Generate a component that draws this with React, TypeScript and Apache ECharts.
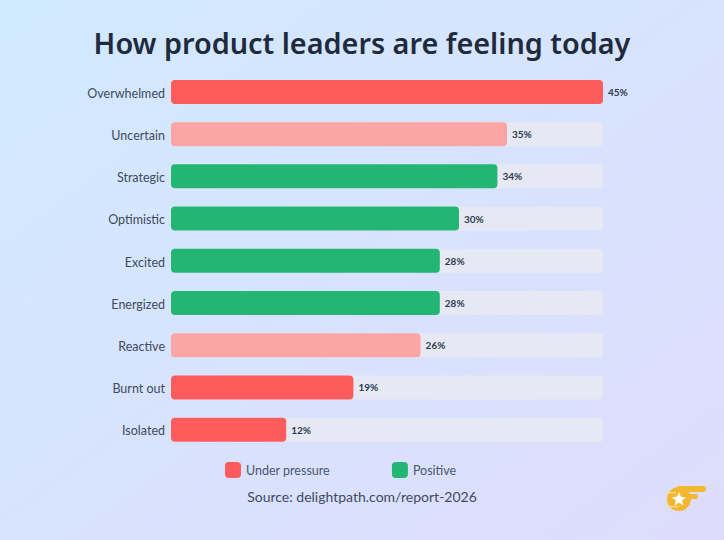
import React, { useEffect, useRef } from "react";
import * as echarts from "echarts";

const categories = [
  "Overwhelmed",
  "Uncertain",
  "Strategic",
  "Optimistic",
  "Excited",
  "Energized",
  "Reactive",
  "Burnt out",
  "Isolated",
];
const values = [45, 35, 34, 30, 28, 28, 26, 19, 12];
// tone of each feeling: "pressure" (strong), "mild" (light pressure), "positive"
const tones = [
  "pressure",
  "mild",
  "positive",
  "positive",
  "positive",
  "positive",
  "mild",
  "pressure",
  "pressure",
];
const legendNames = ["Under pressure", "Positive"];

const toneColor: Record<string, string> = {
  pressure: "#fd5b5c",
  mild: "#fba6a4",
  positive: "#22b573",
};

const TEXT_DARK = "#1f2a3c";
const TEXT_MID = "#3d4a60";
const FONT = "Lato, 'Noto Sans', sans-serif";

function starPoints(cx: number, cy: number, ro: number, ri: number) {
  const pts: number[][] = [];
  for (let i = 0; i < 10; i++) {
    const r = i % 2 === 0 ? ro : ri;
    const a = -Math.PI / 2 + (i * Math.PI) / 5;
    pts.push([cx + r * Math.cos(a), cy + r * Math.sin(a)]);
  }
  return pts;
}

export default function App() {
  const ref = useRef<HTMLDivElement>(null);

  useEffect(() => {
    if (!ref.current) return;
    const chart = echarts.init(ref.current, null, { renderer: "svg" });

    const gold = "#f4b731";
    const logo = {
      type: "group",
      children: [
        { type: "rect", shape: { x: 676, y: 486, width: 30, height: 6, r: 3 }, style: { fill: gold } },
        { type: "rect", shape: { x: 676, y: 494, width: 22, height: 5, r: 2.5 }, style: { fill: gold } },
        { type: "rect", shape: { x: 676, y: 501, width: 14, height: 4, r: 2 }, style: { fill: gold } },
        { type: "circle", shape: { cx: 679, cy: 499, r: 12 }, style: { fill: gold } },
        { type: "rect", shape: { x: 666, y: 492, width: 10, height: 1.2 }, style: { fill: "#ffe08a" } },
        { type: "rect", shape: { x: 666, y: 506, width: 12, height: 1.2 }, style: { fill: "#ffe08a" } },
        { type: "polygon", shape: { points: starPoints(679, 499.5, 7.5, 3.3) }, style: { fill: "#ffffff" } },
      ],
    };

    chart.setOption({
      animation: false,
      backgroundColor: new echarts.graphic.LinearGradient(0, 0, 1, 1, [
        { offset: 0, color: "#d1eaff" },
        { offset: 1, color: "#dedcfc" },
      ]),
      title: {
        text: "How product leaders are feeling today",
        left: "center",
        top: 23,
        textStyle: { fontFamily: "'Noto Sans', sans-serif", fontSize: 28.8, fontWeight: 600, color: TEXT_DARK },
      },
      legend: {
        data: legendNames.map((n) => ({ name: n, icon: "roundRect" })),
        left: 220,
        top: 457,
        itemWidth: 16,
        itemHeight: 16,
        itemGap: 62,
        textStyle: { fontFamily: FONT, fontSize: 12.5, color: "#4a5670" },
        selectedMode: false,
      },
      grid: { left: 171, right: 121, top: 72, bottom: 88, containLabel: false },
      xAxis: {
        type: "value",
        min: 0,
        max: 45,
        show: false,
      },
      yAxis: {
        type: "category",
        data: categories,
        inverse: true,
        axisLine: { show: false },
        axisTick: { show: false },
        axisLabel: {
          fontFamily: FONT,
          fontSize: 12.5,
          color: TEXT_MID,
          margin: 6,
        },
      },
      series: [
        {
          type: "bar",
          name: "feelings",
          data: values.map((v, i) => ({ value: v, itemStyle: { color: toneColor[tones[i]] } })),
          barWidth: 24,
          showBackground: true,
          backgroundStyle: { color: "#e6e9f4", borderRadius: 4 },
          itemStyle: { borderRadius: 4 },
          label: {
            show: true,
            position: "right",
            distance: 5,
            formatter: "{c}%",
            fontFamily: FONT,
            fontSize: 10,
            fontWeight: "bold",
            color: "#2d3a50",
          },
        },
        { type: "bar", name: legendNames[0], data: [], itemStyle: { color: toneColor.pressure } },
        { type: "bar", name: legendNames[1], data: [], itemStyle: { color: toneColor.positive } },
      ],
      graphic: [
        {
          type: "text",
          left: "center",
          top: 489,
          style: {
            text: "Source: delightpath.com/report-2026",
            fontFamily: FONT,
            fontSize: 14,
            fill: TEXT_MID,
          },
        },
        logo,
      ],
    });

    return () => chart.dispose();
  }, []);

  return <div ref={ref} style={{ width: 724, height: 540, position: "absolute", left: 0, top: 0 }} />;
}
